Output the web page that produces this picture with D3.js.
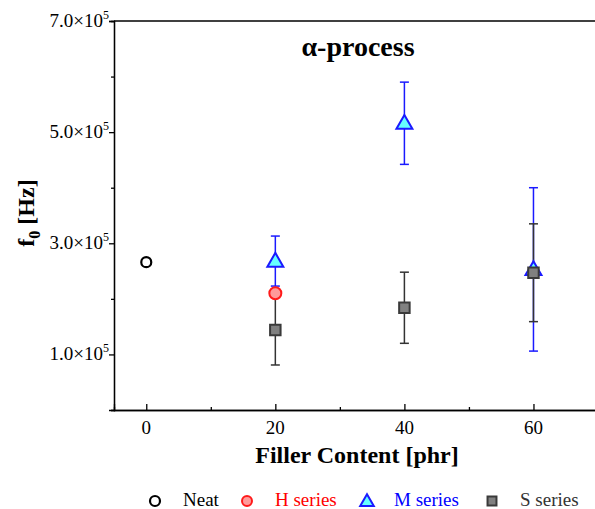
<!DOCTYPE html>
<html>
<head>
<meta charset="utf-8">
<script src="https://cdn.jsdelivr.net/npm/d3@7"></script>
<style>
  body { margin: 0; background: #fff; }
  text { font-family: "Liberation Serif", "Times New Roman", serif; }
</style>
</head>
<body>
<div id="graph"></div>
<script>
// data
var neatX = [0], neatY = [2.66e5];
var hX = [20], hY = [2.10e5];
var mX = [20, 40, 60], mY = [2.68e5, 5.16e5, 2.53e5], mErr = [0.45e5, 0.74e5, 1.47e5];
var sX = [20, 40, 60], sY = [1.44e5, 1.84e5, 2.47e5], sErr = [0.63e5, 0.64e5, 0.88e5];
var xTicks = [0, 20, 40, 60], xMinor = [10, 30, 50];
var yTicks = [1e5, 3e5, 5e5, 7e5], yMinor = [0, 2e5, 4e5, 6e5];

var W = 595, H = 509;
var margin = {top: 21, right: -3, bottom: 99, left: 114};

var svg = d3.select("#graph").append("svg")
  .attr("width", W).attr("height", H);

var x = d3.scaleLinear().domain([-5, 70]).range([margin.left, W - margin.right]);
var y = d3.scaleLinear().domain([0, 7e5]).range([H - margin.bottom, margin.top]);

// axes
var xAxis = svg.append("g").attr("transform", "translate(0," + y(0) + ")");
xAxis.call(d3.axisBottom(x).tickValues(xTicks).tickSize(-6).tickFormat(""));
xAxis.append("g").call(d3.axisBottom(x).tickValues(xMinor).tickSize(-3).tickFormat(""));
xAxis.selectAll(".domain").attr("stroke-width", 1.3);
xAxis.selectAll("line").attr("stroke-width", 1.3);
svg.selectAll(".xl").data(xTicks).enter().append("text")
  .attr("x", d => x(d)).attr("y", 434)
  .attr("text-anchor", "middle").attr("font-size", 19)
  .text(d => d);

var yAxis = svg.append("g").attr("transform", "translate(" + x(-5) + ",0)");
yAxis.call(d3.axisLeft(y).tickValues(yTicks).tickSize(5).tickFormat(""));
yAxis.append("g").call(d3.axisLeft(y).tickValues(yMinor).tickSize(3).tickFormat(""));
yAxis.selectAll(".domain").attr("stroke-width", 1.3);
yAxis.selectAll("line").attr("stroke-width", 1.3);
var yl = svg.selectAll(".yl").data(yTicks).enter().append("text")
  .attr("x", x(-5) - 5).attr("y", d => y(d) + 6)
  .attr("text-anchor", "end").attr("font-size", 19);
yl.append("tspan").text(d => (d / 1e5).toFixed(1) + "×10");
yl.append("tspan").attr("font-size", 12).attr("dy", -8).text("5");

// top border
svg.append("line")
  .attr("x1", x(-5)).attr("x2", W).attr("y1", y(7e5)).attr("y2", y(7e5))
  .attr("stroke", "#000").attr("stroke-width", 1.3);

// labels
svg.append("text").attr("x", 358).attr("y", 56)
  .attr("text-anchor", "middle").attr("font-size", 28).attr("font-weight", "bold")
  .text("α-process");
svg.append("text").attr("x", 357).attr("y", 463)
  .attr("text-anchor", "middle").attr("font-size", 24).attr("font-weight", "bold")
  .text("Filler Content [phr]");
var ylab = svg.append("text")
  .attr("transform", "translate(34,213) rotate(-90)")
  .attr("text-anchor", "middle").attr("font-size", 24).attr("font-weight", "bold");
ylab.append("tspan").text("f");
ylab.append("tspan").attr("font-size", 16).attr("dy", 6).text("0");
ylab.append("tspan").attr("dy", -6).text(" [Hz]");

// error bars
function errBars(xs, ys, es, color) {
  var g = svg.append("g").attr("stroke", color).attr("stroke-width", 1.5);
  xs.forEach(function(d, i) {
    var cx = x(d), t = y(ys[i] + es[i]), b = y(ys[i] - es[i]);
    g.append("line").attr("x1", cx).attr("x2", cx).attr("y1", t).attr("y2", b);
    g.append("line").attr("x1", cx - 4.5).attr("x2", cx + 4.5).attr("y1", t).attr("y2", t);
    g.append("line").attr("x1", cx - 4.5).attr("x2", cx + 4.5).attr("y1", b).attr("y2", b);
  });
}
errBars(mX, mY, mErr, "#1a1aff");
errBars(sX, sY, sErr, "#333");

var tri = d3.symbol().type(d3.symbolTriangle).size(110);
var sq = d3.symbol().type(d3.symbolSquare).size(110);

svg.selectAll(".neat").data(neatX).enter().append("circle")
  .attr("cx", d => x(d)).attr("cy", (d, i) => y(neatY[i])).attr("r", 5)
  .attr("fill", "none").attr("stroke", "#000").attr("stroke-width", 2.2);
svg.selectAll(".h").data(hX).enter().append("circle")
  .attr("cx", d => x(d)).attr("cy", (d, i) => y(hY[i])).attr("r", 6)
  .attr("fill", "#ff9a9a").attr("stroke", "#ff1a1a").attr("stroke-width", 2);
svg.selectAll(".m").data(mX).enter().append("path")
  .attr("d", tri).attr("transform", (d, i) => "translate(" + x(d) + "," + (y(mY[i]) + 1) + ")")
  .attr("fill", "#66ffff").attr("stroke", "#1a1aff").attr("stroke-width", 2);
svg.selectAll(".s").data(sX).enter().append("path")
  .attr("d", sq).attr("transform", (d, i) => "translate(" + x(d) + "," + y(sY[i]) + ")")
  .attr("fill", "#808080").attr("stroke", "#3a3a3a").attr("stroke-width", 2);

// legend
var lg = svg.append("g").attr("transform", "translate(0,501)");
lg.append("circle").attr("cx", 155).attr("cy", 0).attr("r", 5)
  .attr("fill", "none").attr("stroke", "#000").attr("stroke-width", 2.2);
lg.append("text").attr("x", 183).attr("y", 5).attr("font-size", 19).attr("fill", "#000").text("Neat");
lg.append("circle").attr("cx", 247).attr("cy", 0).attr("r", 5)
  .attr("fill", "#ff9a9a").attr("stroke", "#ff1a1a").attr("stroke-width", 2);
lg.append("text").attr("x", 275).attr("y", 5).attr("font-size", 19).attr("fill", "#ff0000").text("H series");
lg.append("path").attr("d", d3.symbol().type(d3.symbolTriangle).size(80))
  .attr("transform", "translate(367,1)")
  .attr("fill", "#66ffff").attr("stroke", "#1a1aff").attr("stroke-width", 2);
lg.append("text").attr("x", 394).attr("y", 5).attr("font-size", 19).attr("fill", "#0000ff").text("M series");
lg.append("path").attr("d", d3.symbol().type(d3.symbolSquare).size(80))
  .attr("transform", "translate(492,0)")
  .attr("fill", "#808080").attr("stroke", "#3a3a3a").attr("stroke-width", 2);
lg.append("text").attr("x", 520).attr("y", 5).attr("font-size", 19).attr("fill", "#333").text("S series");
</script>
</body>
</html>
